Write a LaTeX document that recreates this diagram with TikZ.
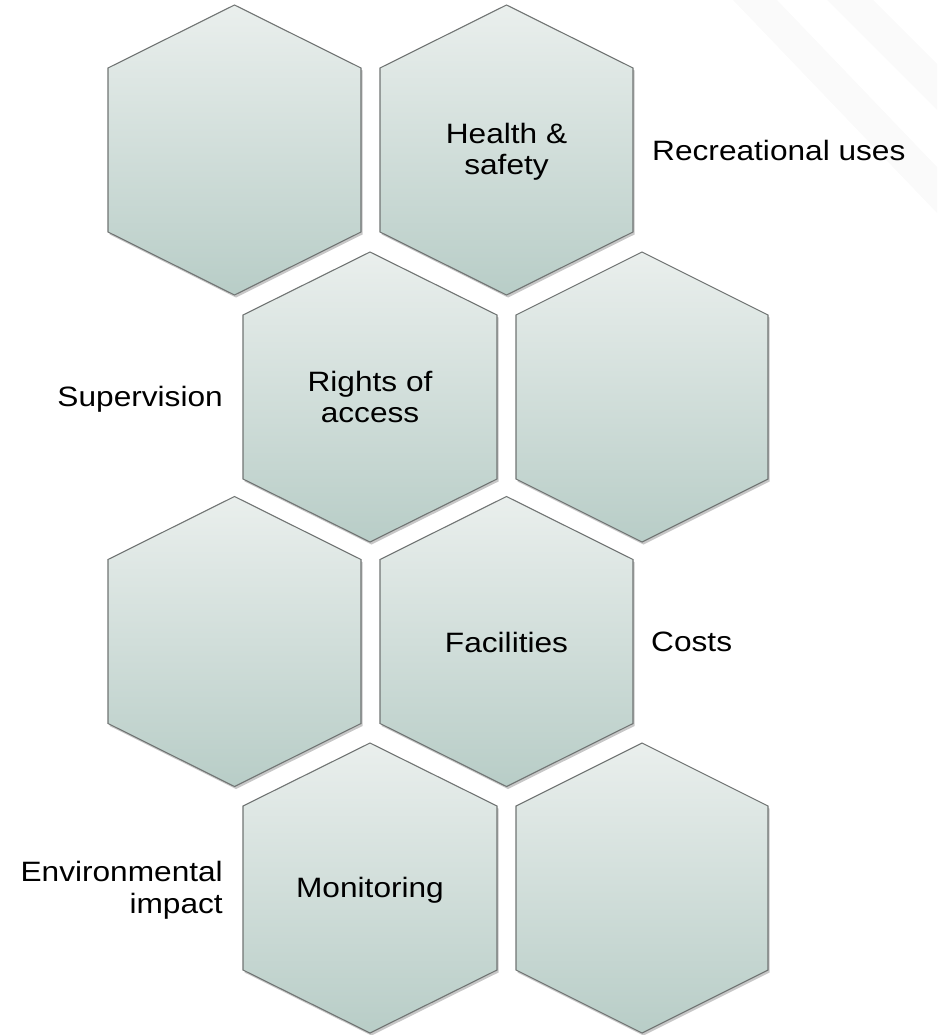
\documentclass[tikz,border=0pt]{standalone}
\usepackage{fontspec}
\setmainfont{Liberation Sans}[FakeStretch=1.13]
\usetikzlibrary{shadows}
\definecolor{hexedge}{RGB}{112,116,115}
\definecolor{hextop}{RGB}{234,239,237}
\definecolor{hexbottom}{RGB}{184,205,199}
% name, centre x, centre y, half width, text
\newcommand{\hexcell}[5]{%
  \draw[hexshape] (#2,#3-145) -- (#2+#4,#3-82) -- (#2+#4,#3+82) -- (#2,#3+145)
    -- (#2-#4,#3+82) -- (#2-#4,#3-82) -- cycle;
  \node[hextext] (#1) at (#2,#3) {#5};
}
\begin{document}
\begin{tikzpicture}[x=1pt,y=-1pt,
    every node/.style={font=\fontsize{28}{31.5}\selectfont,inner sep=0pt},
    hexshape/.style={draw=hexedge,line width=1.1pt,top color=hextop,bottom color=hexbottom,
      drop shadow={shadow xshift=1.5pt,shadow yshift=-2.5pt,opacity=0.22,fill=black}},
    hextext/.style={align=center},
    sidelabel/.style={align=right}]
                \useasboundingbox (0,0) rectangle (937,1035);
                % faint background bands
                \fill[black!2] (733,0) -- (777,0) -- (937,167) -- (937,213) -- cycle;
                \fill[black!2] (827,0) -- (873,0) -- (937,64) -- (937,110) -- cycle;
                % cells
                \hexcell{cellA}{234.5}{150}{126.5}{}
                \hexcell{cellB}{506.5}{150}{126.5}{}
                \hexcell{cellC}{370}{397}{127}{}
                \hexcell{cellD}{642}{397}{126}{}
                \hexcell{cellE}{234.5}{641.5}{126.5}{}
                \hexcell{cellF}{506.5}{641.5}{126.5}{}
                \hexcell{cellG}{370}{888}{127}{}
                \hexcell{cellH}{642}{888}{126}{}
                % cell texts
                \node[hextext] (health) at (506.5,152) {Health \&\\safety};
                \node[hextext] (rights) at (370,397) {Rights of\\access};
                \node[hextext] (facilities) at (506.5,642) {Facilities};
                \node[hextext] (monitoring) at (370,890) {Monitoring};
                % side labels
                \node[anchor=west] (recreational) at (652,150) {Recreational uses};
                \node[sidelabel,anchor=east] (supervision) at (223,399) {Supervision};
                \node[anchor=west] (costs) at (651,642) {Costs};
                \node[sidelabel,anchor=east] (environmental) at (223,890) {Environmental\\impact};
            \end{tikzpicture}
\end{document}
